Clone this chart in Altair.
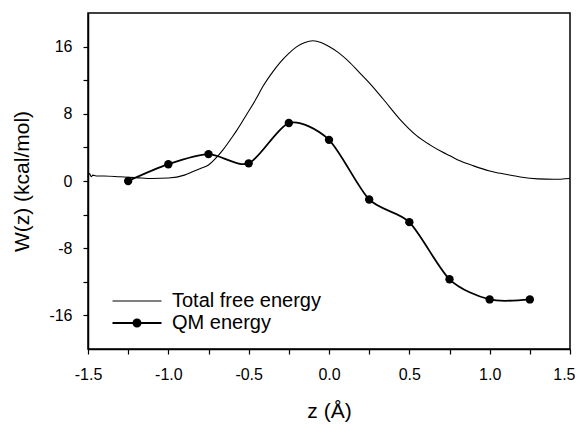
import altair as alt
import pandas as pd

# Total free energy curve
tot_z = [-1.5, -1.49, -1.48, -1.47, -1.45, -1.4, -1.3, -1.2, -1.1, -1.0, -0.9, -0.85, -0.8,
         -0.75, -0.7, -0.66, -0.6, -0.575, -0.51, -0.45, -0.41, -0.35, -0.305, -0.25, -0.2,
         -0.15, -0.1, -0.05, 0.0, 0.05, 0.13, 0.2, 0.255, 0.337, 0.44, 0.545, 0.628, 0.7,
         0.753, 0.815, 0.9, 1.0, 1.1, 1.19, 1.3, 1.4, 1.5]
tot_w = [0.5, 0.9, 0.5, 0.7, 0.6, 0.6, 0.5, 0.4, 0.3, 0.35, 0.7, 1.1, 1.5,
         1.9, 2.8, 3.7, 5.3, 6.0, 8.0, 9.9, 11.3, 13.0, 14.1, 15.2, 16.0,
         16.5, 16.7, 16.5, 16.0, 15.4, 14.1, 12.7, 11.6, 9.76, 7.37, 5.4, 4.3, 3.5,
         3.0, 2.4, 1.8, 1.2, 0.8, 0.48, 0.25, 0.2, 0.3]

# QM energy points
qm_z = [-1.25, -1.0, -0.75, -0.5, -0.25, 0.0, 0.25, 0.5, 0.75, 1.0, 1.25]
qm_w = [0.0, 2.0, 3.2, 2.1, 6.9, 4.9, -2.2, -4.9, -11.7, -14.1, -14.1]

series_names = ["Total free energy", "QM energy"]
x_ticks = [-1.5, -1.25, -1.0, -0.75, -0.5, -0.25, 0.0, 0.25, 0.5, 0.75, 1.0, 1.25, 1.5]
y_ticks = [-16, -12, -8, -4, 0, 4, 8, 12, 16]
y_labels = ["-16", "", "-8", "", "0", "", "8", "", "16"]

tot_df = pd.DataFrame({"z": tot_z, "W": tot_w, "series": series_names[0]})
qm_df = pd.DataFrame({"z": qm_z, "W": qm_w, "series": series_names[1]})
all_df = pd.concat([tot_df, qm_df], ignore_index=True)

FONT = "Liberation Sans"

y_label_expr = "[" + ",".join("'%s'" % s for s in y_labels) + "][indexof(" + \
    "[" + ",".join(str(v) for v in y_ticks) + "], datum.value)]"

x_enc = alt.X("z:Q", scale=alt.Scale(domain=[-1.5, 1.5], nice=False),
              axis=alt.Axis(title="z (Å)", values=x_ticks,
                            labelExpr="abs(datum.value*2 - round(datum.value*2)) < 0.001 ? ((datum.value < 0 ? '-' : '') + format(abs(datum.value), '.1f')) : ''",
                            labelAlign={"condition": {"test": "datum.value >= 1.49", "value": "right"}, "value": "center"},
                            labelOffset={"condition": {"test": "datum.value >= 1.49", "value": 5}, "value": 0},
                            titlePadding=18, labelPadding=12))
y_enc = alt.Y("W:Q", scale=alt.Scale(domain=[-20, 20], nice=False),
              axis=alt.Axis(title="W(z) (kcal/mol)", values=y_ticks,
                            labelExpr=y_label_expr,
                            titlePadding=16, labelPadding=11))

tot_line = alt.Chart(tot_df).mark_line(color="black", strokeWidth=1.1, interpolate="monotone").encode(
    x=x_enc, y=y_enc)
qm_line = alt.Chart(qm_df).mark_line(color="black", strokeWidth=1.8, interpolate="cardinal", tension=0.2).encode(
    x="z:Q", y="W:Q")
qm_pts = alt.Chart(qm_df).mark_circle(color="black", size=70, opacity=1).encode(
    x="z:Q", y="W:Q")

line_path = "M-4.9,-0.11H4.9V0.11H-4.9Z"
line_dot_path = ("M-4.9,-0.18H4.9V0.18H-4.9Z"
                 "M-0.9,0A0.9,0.9 0 1,1 0.9,0A0.9,0.9 0 1,1 -0.9,0Z")

legend_layer = alt.Chart(all_df).mark_point(filled=True, color="black", opacity=0, strokeWidth=0, size=100).encode(
    x="z:Q", y="W:Q",
    shape=alt.Shape("series:N",
                    scale=alt.Scale(domain=series_names, range=[line_path, line_dot_path]),
                    legend=alt.Legend(title=None, orient="none", legendX=39, legendY=278,
                                      symbolSize=100, symbolOpacity=1, symbolFillColor="black",
                                      symbolStrokeWidth=0, labelOffset=25, labelFontSize=20,
                                      labelFont=FONT, rowPadding=2, padding=0,
                                      labelColor="black")))

chart = alt.layer(tot_line, qm_line, qm_pts, legend_layer).properties(
    width=482, height=336,
    autosize=alt.AutoSizeParams(type="none"),
    padding={"left": 80, "top": 5, "right": 5, "bottom": 82}
).configure_view(stroke="black", strokeWidth=1.5).configure_axis(
    grid=False, domainColor="black", domainWidth=1.5, tickColor="black", tickWidth=1.2,
    tickSize=5, labelFont=FONT, titleFont=FONT, labelFontSize=16, titleFontSize=21,
    labelColor="black", titleColor="black", titleFontWeight="normal", labelFlush=False,
    labelOverlap=False
)

chart.save("out.html", embed_options={"renderer": "svg", "actions": False})
